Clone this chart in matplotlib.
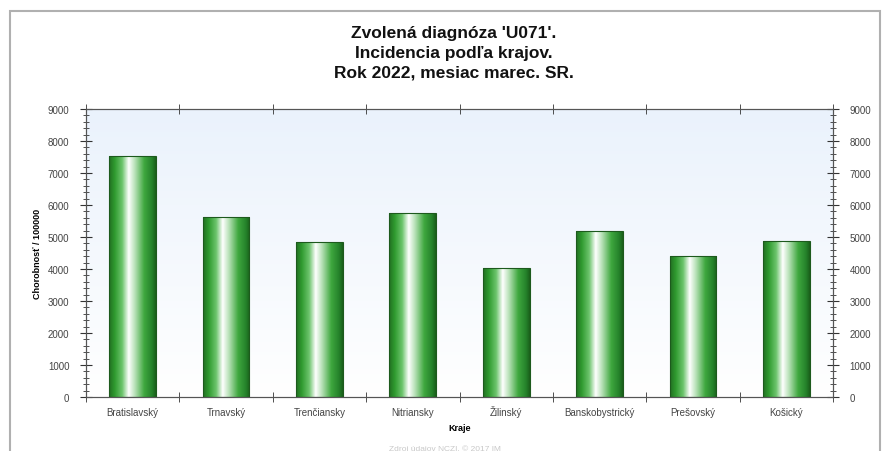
import numpy as np
import matplotlib
matplotlib.use('Agg')
import matplotlib.pyplot as plt
from matplotlib.colors import LinearSegmentedColormap
from matplotlib.patches import Rectangle
from matplotlib.ticker import MultipleLocator, FixedLocator

plt.rcParams['font.family'] = ['Liberation Sans', 'DejaVu Sans']

kraje = ['Bratislavský', 'Trnavský', 'Trenčiansky', 'Nitriansky', 'Žilinský',
         'Banskobystrický', 'Prešovský', 'Košický']
hodnoty = [7530, 5630, 4840, 5750, 4030, 5190, 4410, 4880]

title = "Zvolená diagnóza 'U071'.\nIncidencia podľa krajov.\nRok 2022, mesiac marec. SR."

fig = plt.figure(figsize=(8.9, 4.52), dpi=100)
fig.patch.set_facecolor('white')

# outer frame
fig.patches.append(Rectangle((10 / 890, -0.1), 870 / 890, 1.1 - 12 / 452,
                             transform=fig.transFigure, fill=False,
                             edgecolor='#b0b0b0', linewidth=1.5))

ax = fig.add_axes([86 / 890, 1 - 398 / 452, (833 - 86) / 890, (398 - 110) / 452])

x = np.arange(len(kraje))
ax.set_xlim(-0.5, len(kraje) - 0.5)
ax.set_ylim(0, 9000)

# background gradient
bg = LinearSegmentedColormap.from_list('bg', ['#ffffff', '#eaf2fc'])
grad = np.linspace(0, 1, 256).reshape(-1, 1)
ax.imshow(grad, extent=(-0.5, len(kraje) - 0.5, 0, 9000), origin='lower',
          aspect='auto', cmap=bg, zorder=0)

bars = ax.bar(x, hodnoty, width=0.5, facecolor='none', edgecolor='#1d5a1d',
              linewidth=0.8, zorder=3)

barcm = LinearSegmentedColormap.from_list('bar', [
    (0.0, '#226f22'), (0.12, '#2f9a2f'), (0.28, '#6cc46c'), (0.42, '#ffffff'),
    (0.55, '#b9e2b9'), (0.75, '#3fa83f'), (0.92, '#24812a'), (1.0, '#1a5e1a')])
hgrad = np.linspace(0, 1, 256).reshape(1, -1)
for b in bars:
    x0, y0 = b.get_x(), b.get_y()
    im = ax.imshow(hgrad, extent=(x0, x0 + b.get_width(), y0, y0 + b.get_height()),
                   aspect='auto', cmap=barcm, zorder=2)
    im.set_clip_path(b)

ax.set_xticks(x)
ax.set_xticklabels(kraje, va='baseline')
ax.xaxis.set_minor_locator(FixedLocator(np.arange(-0.5, len(kraje), 1.0)))
ax.tick_params(axis='x', which='major', length=0, labelsize=7, colors='#444444', pad=13)
ax.tick_params(axis='x', which='minor', length=7, direction='inout', top=True,
               color='#333333')

ax.yaxis.set_major_locator(MultipleLocator(1000))
ax.yaxis.set_minor_locator(MultipleLocator(200))
ax.tick_params(axis='y', which='major', length=8, direction='inout', labelsize=7,
               colors='#444444', pad=8)
ax.tick_params(axis='y', which='minor', length=4, direction='inout', color='#333333')
ax.tick_params(axis='both', which='both', color='#333333')

ax2 = ax.twinx()
ax2.set_ylim(0, 9000)
ax2.yaxis.set_major_locator(MultipleLocator(1000))
ax2.yaxis.set_minor_locator(MultipleLocator(200))
ax2.tick_params(axis='y', which='major', length=8, direction='inout', labelsize=7,
                labelcolor='#444444', color='#333333', pad=8)
ax2.tick_params(axis='y', which='minor', length=4, direction='inout', color='#333333')

for a in (ax, ax2):
    for s in a.spines.values():
        s.set_color('#555555')
        s.set_linewidth(0.8)

ax.set_ylabel('Chorobnosť / 100000', fontsize=6.5, fontweight='bold', labelpad=4)
ax.set_xlabel('Kraje', fontsize=6.5, fontweight='bold', labelpad=4)

fig.text(454 / 890, 1 - 26 / 452, title, ha='center', va='top', fontsize=12.5,
         fontweight='bold', linespacing=1.38, color='#111111')
fig.text(445 / 890, 1 - 449 / 452, 'Zdroj údajov NCZI, © 2017 IM', ha='center',
         va='center', fontsize=6, color='#c8c8c8')

fig.savefig('out.png', dpi=100)
